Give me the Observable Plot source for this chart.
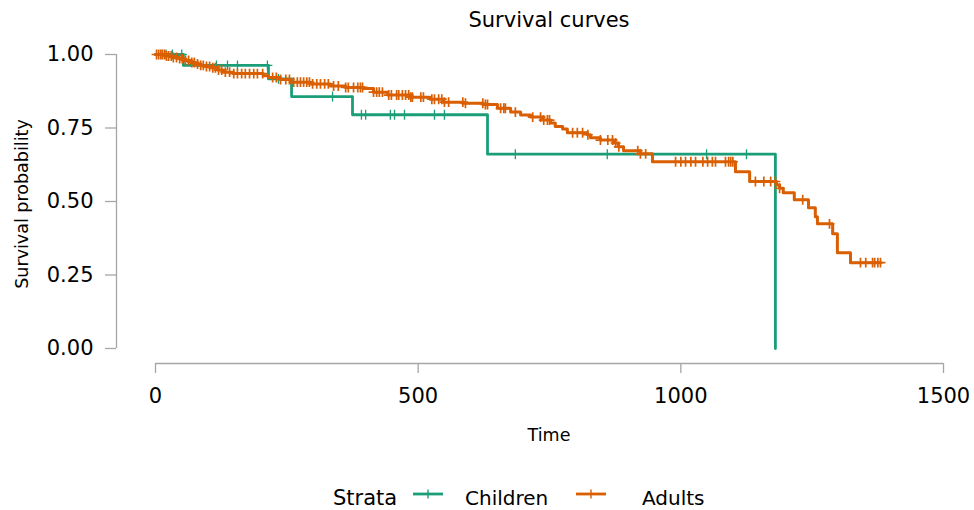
<!DOCTYPE html>
<html><head><meta charset="utf-8">
<script src="https://cdn.jsdelivr.net/npm/d3@7"></script>
<script src="https://cdn.jsdelivr.net/npm/@observablehq/plot@0.6"></script>
<style>body{margin:0;background:#fff;} svg{display:block;}</style>
</head><body><div id="chart"></div>
<script>
const strata = ["Children", "Adults"];
const strataColors = ["#1B9E77", "#D95F02"];
const xTicks = [0, 500, 1000, 1500];
const yTicks = [0, 0.25, 0.5, 0.75, 1];

const childrenEventTimes = [53, 215, 259, 375, 632, 1180];
const childrenEventSurv  = [0.963, 0.917, 0.857, 0.795, 0.661, 0];
const childrenCensorTimes = [20, 32, 50, 116, 137, 156, 213, 234, 337, 392, 400, 447, 455, 474, 531, 550, 685, 860, 1049, 1125];

const adultsEventTimes = [20, 34, 44, 53, 67, 76, 86, 95, 105, 118, 129, 148, 205, 215, 238, 257, 295, 333, 362, 396, 415, 442, 485, 523, 548, 586, 624, 651, 676, 695, 714, 737, 752, 761, 775, 784, 822, 828, 847, 872, 881, 891, 923, 946, 1104, 1131, 1182, 1188, 1195, 1216, 1243, 1256, 1260, 1289, 1298, 1323];
const adultsEventSurv  = [0.995, 0.99, 0.986, 0.98, 0.973, 0.968, 0.963, 0.959, 0.955, 0.947, 0.94, 0.935, 0.928, 0.922, 0.915, 0.906, 0.90, 0.893, 0.888, 0.884, 0.872, 0.862, 0.855, 0.848, 0.838, 0.834, 0.83, 0.817, 0.804, 0.794, 0.787, 0.777, 0.767, 0.755, 0.747, 0.734, 0.727, 0.717, 0.709, 0.699, 0.686, 0.673, 0.662, 0.635, 0.601, 0.568, 0.556, 0.545, 0.530, 0.506, 0.479, 0.448, 0.424, 0.390, 0.326, 0.292];
const adultsCensorTimes = [2, 6, 10, 13, 17, 21, 25, 30, 34, 40, 46, 51, 57, 63, 69, 74, 80, 86, 91, 97, 103, 109, 114, 120, 126, 133, 141, 149, 156, 164, 171, 179, 187, 194, 204, 223, 230, 238, 248, 255, 263, 270, 276, 282, 288, 293, 299, 307, 314, 322, 329, 339, 348, 362, 367, 377, 385, 390, 394, 415, 421, 426, 432, 444, 449, 459, 463, 470, 476, 482, 486, 489, 505, 510, 526, 531, 539, 545, 550, 558, 585, 590, 623, 628, 632, 657, 663, 666, 685, 718, 733, 739, 746, 750, 794, 803, 813, 823, 847, 861, 870, 876, 882, 918, 923, 933, 990, 1000, 1009, 1019, 1028, 1042, 1051, 1060, 1066, 1085, 1091, 1095, 1099, 1142, 1158, 1171, 1180, 1188, 1232, 1283, 1342, 1352, 1365, 1369, 1375, 1380];

function stepLine(name, times, surv, censor) {
  const end = Math.max(times[times.length - 1], d3.max(censor));
  const pts = [{strata: name, time: 0, surv: 1}];
  times.forEach((t, i) => pts.push({strata: name, time: t, surv: surv[i]}));
  pts.push({strata: name, time: end, surv: surv[surv.length - 1]});
  return pts;
}
function censorPoints(name, times, surv, censor) {
  return censor.map(c => {
    let s = 1;
    times.forEach((t, i) => { if (t <= c) s = surv[i]; });
    return {strata: name, time: c, surv: s};
  });
}
const childLine = stepLine("Children", childrenEventTimes, childrenEventSurv, childrenCensorTimes);
const adultLine = stepLine("Adults", adultsEventTimes, adultsEventSurv, adultsCensorTimes);
const childCens = censorPoints("Children", childrenEventTimes, childrenEventSurv, childrenCensorTimes);
const adultCens = censorPoints("Adults", adultsEventTimes, adultsEventSurv, adultsCensorTimes);

const axisGray = "#a6a6a6";
const chart = Plot.plot({
  width: 974, height: 510,
  marginLeft: 116, marginRight: 31, marginTop: 54, marginBottom: 147,
  insetLeft: 39, insetBottom: 15,
  x: {domain: [xTicks[0], xTicks[xTicks.length - 1]]},
  y: {domain: [yTicks[0], yTicks[yTicks.length - 1]]},
  color: {domain: strata, range: strataColors},
  style: {fontFamily: "DejaVu Sans", background: "white", color: "black"},
  marks: [
    Plot.ruleX([xTicks[0]], {y1: yTicks[0], y2: yTicks[yTicks.length - 1], dx: -39, stroke: axisGray, strokeWidth: 1.3}),
    Plot.ruleY([yTicks[0]], {x1: xTicks[0], x2: xTicks[xTicks.length - 1], dy: 15, stroke: axisGray, strokeWidth: 1.3}),
    Plot.axisY({ticks: yTicks, tickFormat: d3.format(".2f"), tickSize: 11, tickPadding: 12, fontSize: 21, stroke: axisGray, strokeWidth: 1.3, fill: "black", label: null}),
    Plot.axisX({ticks: xTicks, tickFormat: d3.format("d"), tickSize: 10, tickPadding: 15, fontSize: 21, stroke: axisGray, strokeWidth: 1.3, fill: "black", label: null}),
    Plot.line(childLine, {x: "time", y: "surv", stroke: "strata", curve: "step-after", strokeWidth: 2.8}),
    Plot.dot(childCens, {x: "time", y: "surv", stroke: "strata", symbol: "plus", r: 3.3, strokeWidth: 1.3}),
    Plot.line(adultLine, {x: "time", y: "surv", stroke: "strata", curve: "step-after", strokeWidth: 3}),
    Plot.dot(adultCens, {x: "time", y: "surv", stroke: "strata", symbol: "plus", r: 3.3, strokeWidth: 1.7})
  ]
});
document.getElementById("chart").appendChild(chart);

const svg = d3.select(chart);
const font = "DejaVu Sans";
const xs = chart.scale("x");
const midX = (xs.apply(xTicks[0]) + xs.apply(xTicks[xTicks.length - 1])) / 2;
svg.append("text").attr("x", midX).attr("y", 27).attr("text-anchor", "middle")
  .attr("font-family", font).attr("font-size", 21).attr("fill", "black").text("Survival curves");
svg.append("text").attr("x", midX).attr("y", 441).attr("text-anchor", "middle")
  .attr("font-family", font).attr("font-size", 17.5).attr("fill", "black").text("Time");
svg.append("text").attr("transform", "translate(28,204) rotate(-90)").attr("text-anchor", "middle")
  .attr("font-family", font).attr("font-size", 17.5).attr("fill", "black").text("Survival probability");

// legend
const cs = chart.scale("color");
const lg = svg.append("g").attr("font-family", font).attr("fill", "black").attr("text-anchor", "start");
lg.append("text").attr("x", 333).attr("y", 505).attr("font-size", 21).attr("text-anchor", "start").text("Strata");
const items = [{name: strata[0], x0: 413, tx: 465}, {name: strata[1], x0: 576, tx: 642}];
items.forEach(it => {
  const col = cs.apply(it.name);
  lg.append("line").attr("x1", it.x0).attr("x2", it.x0 + 30).attr("y1", 494).attr("y2", 494)
    .attr("stroke", col).attr("stroke-width", 2.8);
  lg.append("line").attr("x1", it.x0 + 15).attr("x2", it.x0 + 15).attr("y1", 489.5).attr("y2", 498.5)
    .attr("stroke", col).attr("stroke-width", 1.4);
  lg.append("text").attr("x", it.tx).attr("y", 505).attr("font-size", 20).attr("text-anchor", "start").text(it.name);
});
</script></body></html>
